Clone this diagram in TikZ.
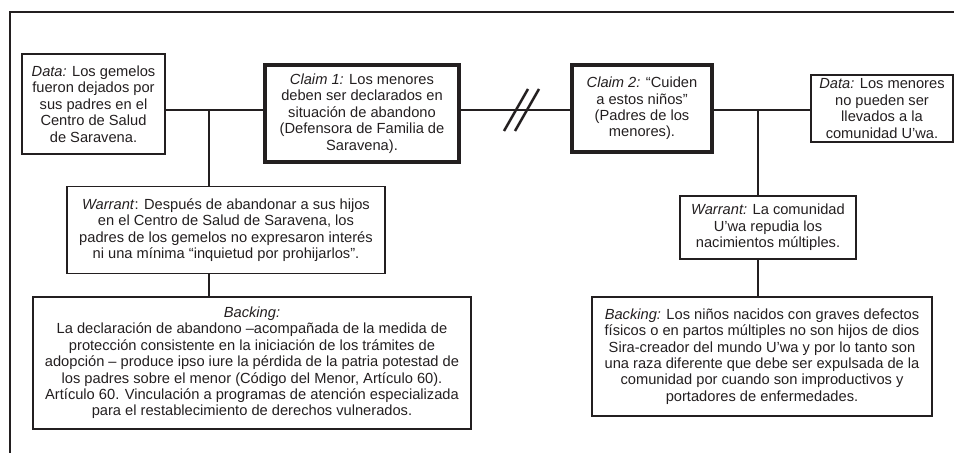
\documentclass[tikz,border=0pt]{standalone}
\usepackage{fontspec}
\setmainfont{Liberation Sans}
\usepackage{tikz}

\definecolor{ink}{HTML}{231F20}

\begin{document}
\begin{tikzpicture}[x=0.75pt,y=-0.75pt,color=ink,line width=0.8pt]
            \useasboundingbox (0,0) rectangle (954,453);
            % frame
            \draw (10,453) -- (10,12) -- (954,12);
            \begin{scope}[every node/.style={draw,align=center,inner sep=0pt,text=ink,font=\fontsize{11}{12.3}\selectfont}]
                \node (d1) at (93.5,104) [minimum width=107.25pt,minimum height=75pt] {\textit{Data:} Los gemelos\\fueron dejados por\\sus padres en el\\Centro de Salud\\de Saravena.};
                \node (c1) at (362,113.5) [minimum width=145.5pt,minimum height=72.75pt,line width=2.7pt] {\textit{Claim 1:} Los menores\\deben ser declarados en\\situación de abandono\\(Defensora de Familia de\\Saravena).};
                \node (c2) at (642,108.5) [minimum width=105pt,minimum height=65.25pt,line width=2.7pt] {\textit{Claim 2:} “Cuiden\\a estos niños”\\(Padres de los\\menores).};
                \node (d2) at (882,108.5) [minimum width=106.5pt,minimum height=50.25pt] {\textit{Data:} Los menores\\no pueden ser\\llevados a la\\comunidad U’wa.};
                \node (w1) at (226,230) [minimum width=238.5pt,minimum height=65.25pt] {\textit{Warrant}: Después de abandonar a sus hijos\\en el Centro de Salud de Saravena, los\\padres de los gemelos no expresaron interés\\ni una mínima “inquietud por prohijarlos”.};
                \node (w2) at (768,227.5) [minimum width=132pt,minimum height=47.25pt] {\textit{Warrant:} La comunidad\\U’wa repudia los\\nacimientos múltiples.};
                \node (b1) at (252,363) [minimum width=328.5pt,minimum height=99pt] {\textit{Backing:}\\La declaración de abandono –acompañada de la medida de\\protección consistente en la iniciación de los trámites de\\adopción – produce ipso iure la pérdida de la patria potestad de\\los padres sobre el menor (Código del Menor, Artículo 60).\\Artículo 60. Vinculación a programas de atención especializada\\para el restablecimiento de derechos vulnerados.};
                \node (b2) at (762,356.5) [minimum width=255pt,minimum height=89.25pt] {\textit{Backing:} Los niños nacidos con graves defectos\\físicos o en partos múltiples no son hijos de dios\\Sira-creador del mundo U’wa y por lo tanto son\\una raza diferente que debe ser expulsada de la\\comunidad por cuando son improductivos y\\portadores de enfermedades.};
            \end{scope}
            \coordinate (j1) at (209,110);
            \coordinate (j2) at (758,110);
            \coordinate (brk) at (521.5,110);
            \draw (d1.east |- j1) -- (c1.west |- j1);
            \draw (j1) -- (j1 |- w1.north);
            \draw (j1 |- w1.south) -- (j1 |- b1.north);
            \draw[line width=1.9pt] (c1.east |- j1) -- (c2.west |- j1);
            \draw[line width=1.9pt] (brk) ++(-17.5,21) -- ++(24,-42);
            \draw[line width=1.9pt] (brk) ++(-6.5,21) -- ++(24,-42);
            \draw (c2.east |- j2) -- (d2.west |- j2);
            \draw (j2) -- (j2 |- w2.north);
            \draw (j2 |- w2.south) -- (j2 |- b2.north);
        \end{tikzpicture}
\end{document}
